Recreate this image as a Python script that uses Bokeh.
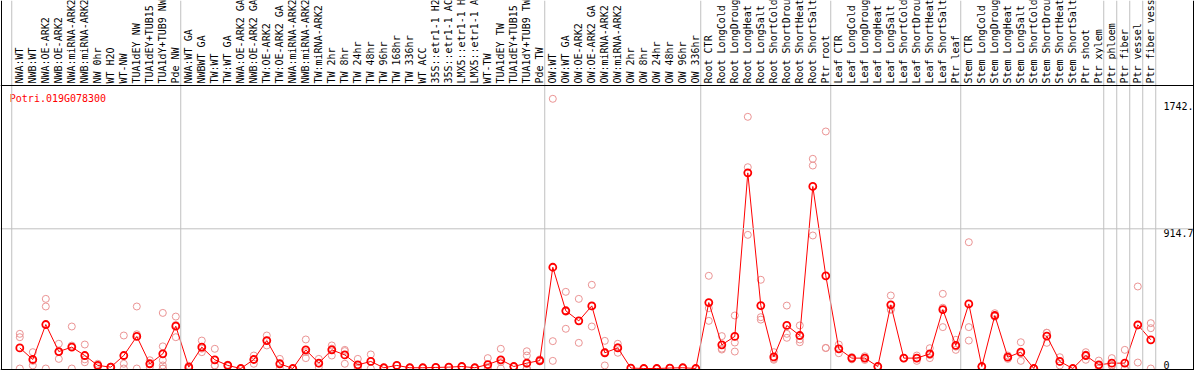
from math import pi
from bokeh.plotting import figure
from bokeh.models import Range1d, Span, ColumnDataSource
from bokeh.core.properties import value
from bokeh.embed import file_html
from bokeh.resources import INLINE

# ---------------- data ----------------
gene = "Potri.019G078300"

group1 = ["NWA:WT", "NWB:WT", "NWA:OE-ARK2", "NWB:OE-ARK2", "NWA:miRNA-ARK2",
          "NWB:miRNA-ARK2", "NW 0hr", "WT H2O", "WT-NW", "TUA1dEY NW",
          "TUA1dEY+TUB15", "TUA1dY+TUB9 NW", "Pde NW"]
group2 = ["NWA:WT GA", "NWBWT GA", "TW:WT", "TW:WT GA", "NWA:OE-ARK2 GA",
          "NWB:OE-ARK2 GA", "TW:OE-ARK2", "TW:OE-ARK2 GA", "NWA:miRNA-ARK2",
          "NWB:miRNA-ARK2", "TW:miRNA-ARK2", "TW 2hr", "TW 8hr", "TW 24hr",
          "TW 48hr", "TW 96hr", "TW 168hr", "TW 336hr", "WT ACC", "35S::etr1-1 H2",
          "35S::etr1-1 AC", "LMX5::etr1-1 H", "LMX5::etr1-1 A", "WT-TW",
          "TUA1dEY TW", "TUA1dEY+TUB15", "TUA1dY+TUB9 TW", "Pde TW"]
group3 = ["OW:WT", "OW:WT GA", "OW:OE-ARK2", "OW:OE-ARK2 GA", "OW:miRNA-ARK2",
          "OW:miRNA-ARK2", "OW 2hr", "OW 8hr", "OW 24hr", "OW 48hr", "OW 96hr",
          "OW 336hr"]
group4 = ["Root CTR", "Root LongCold", "Root LongDroug", "Root LongHeat",
          "Root LongSalt", "Root ShortCold", "Root ShortDrou", "Root ShortHeat",
          "Root ShortSalt", "Ptr root"]
group5 = ["Leaf CTR", "Leaf LongCold", "Leaf LongDroug", "Leaf LongHeat",
          "Leaf LongSalt", "Leaf ShortCold", "Leaf ShortDrou", "Leaf ShortHeat",
          "Leaf ShortSalt", "Ptr leaf"]
group6 = ["Stem CTR", "Stem LongCold", "Stem LongDroug", "Stem LongHeat",
          "Stem LongSalt", "Stem ShortCold", "Stem ShortDrou", "Stem ShortHeat",
          "Stem ShortSalt", "Ptr shoot", "Ptr xylem"]
group7 = ["Ptr phloem"]
group8 = ["Ptr fiber"]
group9 = ["Ptr vessel"]
group10 = ["Ptr fiber vess"]
groups = [group1, group2, group3, group4, group5, group6, group7, group8, group9, group10]

means = [135, 59, 288, 111, 140, 85, 20, 9, 85, 210, 31, 96, 277,
         9, 140, 57, 20, 0, 59, 183, 31, 0, 122, 35, 122, 89, 24, 46, 5, 20,
         5, 5, 7, 9, 13, 5, 26, 57, 13, 35, 52,
         663, 378, 312, 410, 103, 135, 3, 0, 0, 3, 5, 0,
         432, 155, 210, 1281, 412, 76, 282, 216, 1192, 607,
         129, 68, 68, 13, 417, 68, 68, 96, 386, 151,
         423, 13, 347, 74, 107, 0, 212, 46, 0, 85, 24,
         35, 35, 286, 188]

replicates = [
    [227, 205, 0], [107, 50, 20], [456, 406, 0], [162, 63, 108], [275, 150, 0],
    [157, 60, 41], [31, 20, 9], [12, 8, 6], [216, 31, 0], [406, 224, 0],
    [54, 31, 8], [364, 145, 54, 20, 0, 0], [340, 205, 285],
    [9, 0, 18], [183, 107, 130], [129, 20, 20], [25, 20, 15], [0, 0, 0],
    [85, 31, 61], [216, 151, 183], [63, 0, 30], [0, 0, 0], [190, 68, 108],
    [63, 9, 33], [151, 85, 130], [122, 31, 114], [63, 0, 9], [92, 0, 46],
    [5, 5, 5], [20, 20, 20], [5, 5, 5], [5, 5, 5], [7, 7, 7], [9, 9, 9],
    [13, 13, 13], [5, 5, 5], [68, 0, 10], [129, 0, 42], [13, 13, 13],
    [113, 85, 31, 0, 0, 0], [60, 50, 46],
    [1766, 179, 50], [502, 260, 372], [456, 168, 312], [548, 275, 407],
    [181, 20, 108], [162, 140, 103], [3, 3, 3], [0, 0, 0], [0, 0, 0],
    [3, 3, 3], [5, 5, 5], [0, 0, 0],
    [607, 395, 312], [212, 130, 124], [347, 170, 111], [1648, 1318, 875],
    [581, 336, 320], [107, 57, 64], [412, 227, 201], [282, 190, 172],
    [1373, 1329, 871], [1552, 135, 134],
    [157, 129, 100], [68, 60, 75], [80, 68, 56], [13, 13, 13], [478, 384, 390],
    [68, 68, 68], [85, 68, 50], [133, 68, 88], [489, 271, 398], [188, 122, 143],
    [827, 271, 183], [13, 13, 13], [362, 340, 340], [85, 74, 63], [172, 50, 100],
    [0, 0, 0], [234, 168, 234], [74, 20, 44], [0, 0, 0], [107, 57, 91],
    [52, 0, 20], [68, 20, 17], [122, 0, 0], [537, 39, 282], [297, 264, 0],
]

tick_values = [0, 914.7, 1742.3]
tick_labels = ["0", "914.7", "1742."]

# ---------------- layout (pixel geometry) ----------------
W, H = 1194, 370
X0, DX = 19.3, 13.0      # px of first category, spacing
Y0, KV = 368.0, 6.548    # px of value 0, value per px


def rx(px):
    return (px - X0) / DX


def ry(py):
    return (Y0 - py) * KV


categories = [c for g in groups for c in g]
n = len(categories)
idx = list(range(n))

p = figure(width=W, height=H, output_backend="svg", toolbar_location=None,
           x_range=Range1d(rx(0), rx(W)), y_range=Range1d(ry(H), ry(0)),
           x_axis_location=None, y_axis_location=None, min_border=0,
           background_fill_color="white", border_fill_color="white")
p.grid.visible = False
p.outline_line_color = None

# group separators (grey)
start = 0
bounds = [0]
for g in groups:
    start += len(g)
    bounds.append(start)
for b in bounds:
    p.add_layout(Span(location=b - 0.62, dimension="height",
                      line_color="#c0c0c0", line_width=1))
p.add_layout(Span(location=tick_values[1], dimension="width",
                  line_color="#c0c0c0", line_width=1))

# black frame lines
p.add_layout(Span(location=ry(85), dimension="width", line_color="black", line_width=1))
p.add_layout(Span(location=ry(369), dimension="width", line_color="black", line_width=1))
p.add_layout(Span(location=rx(1), dimension="height", line_color="black", line_width=1))
p.add_layout(Span(location=rx(1193), dimension="height", line_color="black", line_width=1))

# category labels (rotated)
lab_src = ColumnDataSource(dict(x=idx, y=[ry(83)] * n, text=categories))
p.text(x="x", y="y", text="text", source=lab_src, angle=pi / 2,
       text_align="left", text_baseline="middle",
       text_font=value("DejaVu Sans Mono"), text_font_size=value("10px"),
       text_color="black")

# replicates
rx_list, ry_list = [], []
for i, reps in enumerate(replicates):
    for v in reps:
        rx_list.append(i)
        ry_list.append(v)
p.scatter(x=rx_list, y=ry_list, marker="circle", size=7, fill_color=None,
          line_color="#eb9494", line_width=1)

# mean line and markers
p.line(x=idx, y=means, line_color="#ff0000", line_width=1)
p.scatter(x=idx, y=means, marker="circle", size=7, fill_color=None,
          line_color="#ff0000", line_width=1.8)

# gene name
p.text(x=[rx(9.3)], y=[ry(97.5)], text=[gene], text_align="left",
       text_baseline="middle", text_font=value("DejaVu Sans Mono"),
       text_font_size=value("10px"), text_color="#ff0000")

# value labels on the right
tx = rx(1163)
p.text(x=[tx], y=[tick_values[0]], text=[tick_labels[0]], text_align="left",
       text_baseline="bottom", text_font=value("DejaVu Sans Mono"),
       text_font_size=value("10px"), text_color="black")
p.text(x=[tx, tx], y=tick_values[1:], text=tick_labels[1:], text_align="left",
       text_baseline="top", text_font=value("DejaVu Sans Mono"),
       text_font_size=value("10px"), text_color="black")

open("out.html", "w").write(file_html(p, INLINE))
